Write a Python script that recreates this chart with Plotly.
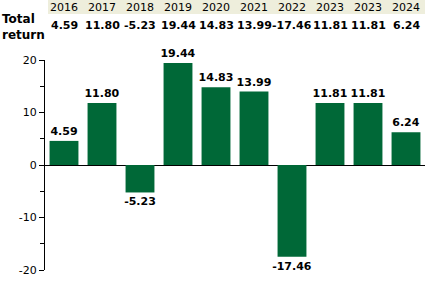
import plotly.graph_objects as go

years = ["2016", "2017", "2018", "2019", "2020", "2021", "2022", "2023", "2023", "2024"]
returns = [4.59, 11.80, -5.23, 19.44, 14.83, 13.99, -17.46, 11.81, 11.81, 6.24]
yticks = [-20, -10, 0, 10, 20]
yticktext = ["-20", "-10", "0", "10", "20"]

xs = list(range(len(years)))
labels = [f"{v:.2f}" for v in returns]

fig = go.Figure()
fig.add_trace(go.Bar(
    x=xs, y=returns, marker_color="#006837", marker_line_width=0,
    text=labels, textposition="outside", cliponaxis=False, constraintext="none",
    textfont=dict(family="DejaVu Sans", size=11, color="#000000"),
    texttemplate="<b>%{text}</b>", width=0.76,
))

H = 210.0
def py(p):
    return (270 - p) / H

fig.add_shape(type="rect", xref="paper", yref="paper",
              x0=3/380, x1=1, y0=py(14), y1=py(0),
              fillcolor="#EEEEDC", line_width=0, layer="below")

for i, (yr, lab) in enumerate(zip(years, labels)):
    fig.add_annotation(x=i, y=py(7), xref="x", yref="paper", text=yr,
                       xanchor="center", yanchor="middle",
                       showarrow=False, font=dict(family="DejaVu Sans", size=11, color="#000"))
    fig.add_annotation(x=i, y=py(26), xref="x", yref="paper", text=f"<b>{lab}</b>",
                       xanchor="center", yanchor="middle",
                       showarrow=False, font=dict(family="DejaVu Sans", size=11, color="#000"))

fig.add_annotation(x=0, y=py(27), xref="paper", yref="paper", xshift=-45,
                   xanchor="left", yanchor="middle", align="left",
                   text="<b>Total<br>return</b>", showarrow=False,
                   font=dict(family="DejaVu Sans", size=12, color="#000"))

fig.update_layout(
    width=425, height=288,
    margin=dict(l=45, r=0, t=60, b=18),
    paper_bgcolor="white", plot_bgcolor="white",
    showlegend=False,
    xaxis=dict(range=[-0.5, len(years) - 0.5], showticklabels=False, showgrid=False,
               zeroline=False, showline=False, ticks=""),
    yaxis=dict(range=[-20, 20], tickvals=yticks, ticktext=yticktext, showgrid=False,
               zeroline=True, zerolinecolor="#000", zerolinewidth=1,
               showline=True, linecolor="#000", linewidth=1,
               ticks="outside", ticklen=5, tickcolor="#000",
               minor=dict(dtick=5, ticks="outside", ticklen=4, tickcolor="#000", showgrid=False),
               tickfont=dict(family="DejaVu Sans", size=11, color="#000")),
    bargap=0.24,
)

fig.write_html("out.html")
